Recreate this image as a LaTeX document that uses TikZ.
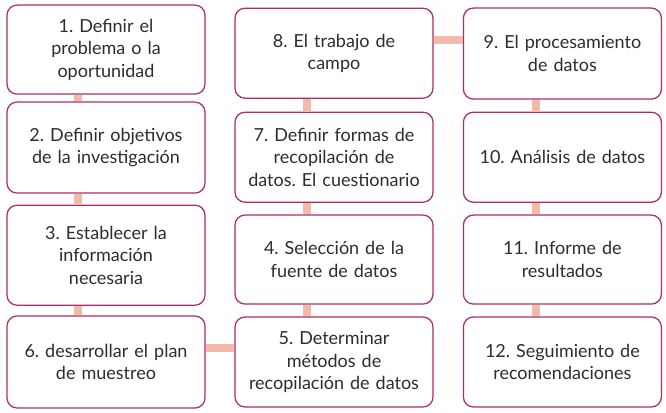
\documentclass[tikz,border=0pt]{standalone}
\usepackage{fontspec}
\setmainfont{Lato}
\frenchspacing
\definecolor{boxline}{RGB}{172,44,108}
\definecolor{linkfill}{RGB}{243,186,170}
\definecolor{boxtext}{RGB}{45,45,45}

\begin{document}
\begin{tikzpicture}[
    stepbox/.style={draw=boxline, line width=0.9pt, rounded corners=0.25cm, fill=white,
      text=boxtext, align=center, text width=4.8cm, minimum width=4.95cm,
      inner sep=0pt, font=\fontsize{12.8}{16}\selectfont},
    link/.style={draw=linkfill, line width=0.2cm}
  ]
    \useasboundingbox (0,0) rectangle (16.65,10.3);

    \node[stepbox, minimum height=2.225cm] (P1) at (2.65, 9.06) {1. Definir el\\problema o la\\oportunidad};
    \node[stepbox, minimum height=2.275cm] (P2) at (2.65, 6.61) {2. Definir objetivos\\de la investigación};
    \node[stepbox, minimum height=2.5cm] (P3) at (2.65, 3.92) {3. Establecer la\\información\\necesaria};
    \node[stepbox, minimum height=2.3cm] (P6) at (2.65, 1.25) {6. desarrollar el plan\\de muestreo};

    \node[stepbox, minimum height=2.25cm] (P8) at (8.35, 8.97) {8. El trabajo de\\campo};
    \node[stepbox, minimum height=2.25cm] (P7) at (8.35, 6.37) {7. Definir formas de\\recopilación de\\datos. El cuestionario};
    \node[stepbox, minimum height=2.225cm] (P4) at (8.35, 3.81) {4. Selección de la\\fuente de datos};
    \node[stepbox, minimum height=2.25cm] (P5) at (8.35, 1.25) {5. Determinar\\métodos de\\recopilación de datos};

    \node[stepbox, minimum height=2.275cm] (P9) at (14.06, 8.96) {9. El procesamiento\\de datos};
    \node[stepbox, minimum height=2.25cm] (P10) at (14.06, 6.37) {10. Análisis de datos};
    \node[stepbox, minimum height=2.225cm] (P11) at (14.06, 3.81) {11. Informe de\\resultados};
    \node[stepbox, minimum height=2.25cm] (P12) at (14.06, 1.25) {12. Seguimiento de\\recomendaciones};

    \draw[link] ([xshift=-0.7cm]P1.south) -- ([xshift=-0.7cm]P2.north);
    \draw[link] ([xshift=-0.7cm]P2.south) -- ([xshift=-0.7cm]P3.north);
    \draw[link] ([xshift=-0.7cm]P3.south) -- ([xshift=-0.7cm]P6.north);
    \draw[link] ([yshift=0.35cm]P6.east) -- ([yshift=0.35cm]P6.east -| P5.west);
    \draw[link] ([xshift=-0.68cm]P5.north) -- ([xshift=-0.68cm]P4.south);
    \draw[link] ([xshift=-0.68cm]P4.north) -- ([xshift=-0.68cm]P7.south);
    \draw[link] ([xshift=-0.68cm]P7.north) -- ([xshift=-0.68cm]P8.south);
    \draw[link] ([yshift=0.33cm]P8.east) -- ([yshift=0.33cm]P8.east -| P9.west);
    \draw[link] ([xshift=-0.66cm]P9.south) -- ([xshift=-0.66cm]P10.north);
    \draw[link] ([xshift=-0.66cm]P10.south) -- ([xshift=-0.66cm]P11.north);
    \draw[link] ([xshift=-0.66cm]P11.south) -- ([xshift=-0.66cm]P12.north);
  \end{tikzpicture}
\end{document}
